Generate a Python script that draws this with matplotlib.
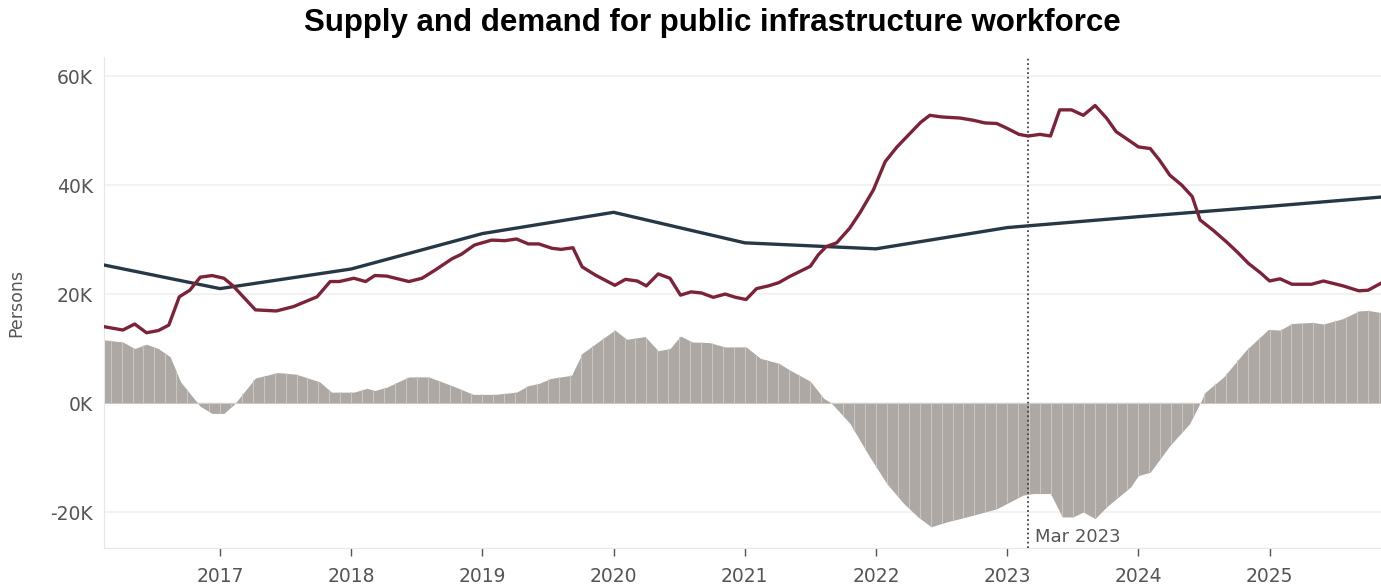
import matplotlib
matplotlib.use("Agg")
import matplotlib.pyplot as plt
from matplotlib.ticker import FuncFormatter
import numpy as np

# supply of workers (annual estimates, persons)
supply_years = [2016, 2017, 2018, 2019, 2020, 2021, 2022, 2023, 2024, 2025, 2026]
supply = [25900, 21000, 24600, 31100, 35000, 29400, 28300, 32200, 34200, 36100, 38100]

# demand for workers (monthly, persons)
demand_dates = [2016.12, 2016.26, 2016.35, 2016.44, 2016.53, 2016.61, 2016.69, 2016.77, 2016.85,
                2016.94, 2017.03, 2017.10, 2017.27, 2017.43, 2017.56, 2017.74, 2017.84, 2017.91,
                2018.02, 2018.11, 2018.18, 2018.27, 2018.44, 2018.54, 2018.64, 2018.77, 2018.84,
                2018.94, 2019.07, 2019.17, 2019.26, 2019.35, 2019.43, 2019.53, 2019.60, 2019.69,
                2019.76, 2019.86, 2020.01, 2020.09, 2020.18, 2020.25, 2020.34, 2020.43, 2020.51,
                2020.59, 2020.67, 2020.76, 2020.85, 2020.93, 2021.01, 2021.09, 2021.18, 2021.26,
                2021.34, 2021.50, 2021.56, 2021.62, 2021.70, 2021.80, 2021.88, 2021.98, 2022.07,
                2022.16, 2022.26, 2022.34, 2022.41, 2022.50, 2022.64, 2022.74, 2022.83, 2022.92,
                2023.00, 2023.09, 2023.16, 2023.25, 2023.33, 2023.40, 2023.49, 2023.58, 2023.67,
                2023.76, 2023.83, 2023.94, 2024.00, 2024.09, 2024.16, 2024.24, 2024.33, 2024.41,
                2024.47, 2024.57, 2024.67, 2024.75, 2024.84, 2024.93, 2025.00, 2025.08, 2025.17,
                2025.32, 2025.41, 2025.56, 2025.68, 2025.75, 2025.85]
demand = [14000, 13400, 14500, 12900, 13300, 14300, 19500, 20700, 23100,
          23400, 22900, 21500, 17100, 16900, 17700, 19500, 22300, 22300,
          22900, 22300, 23400, 23300, 22300, 22900, 24400, 26500, 27300,
          29000, 29900, 29800, 30100, 29200, 29200, 28400, 28200, 28500,
          25000, 23500, 21600, 22700, 22400, 21500, 23700, 22900, 19800,
          20400, 20200, 19400, 20000, 19400, 19000, 21000, 21500, 22100,
          23200, 25100, 27200, 28700, 29400, 32100, 35000, 39100, 44300,
          47000, 49500, 51500, 52800, 52500, 52300, 51900, 51400, 51300,
          50400, 49300, 49000, 49300, 49000, 53800, 53800, 52800, 54600,
          52200, 49800, 48000, 47000, 46700, 44600, 41800, 40000, 37900,
          33600, 31700, 29600, 27800, 25600, 23900, 22400, 22800, 21800,
          21800, 22400, 21500, 20600, 20700, 22000]

# supply minus demand (monthly, persons)
gap_dates = [2016.12, 2016.26, 2016.35, 2016.44, 2016.53, 2016.62, 2016.70, 2016.77, 2016.85,
             2016.94, 2017.03, 2017.11, 2017.27, 2017.44, 2017.58, 2017.76, 2017.85, 2018.02,
             2018.12, 2018.18, 2018.27, 2018.44, 2018.59, 2018.69, 2018.79, 2018.93, 2019.10,
             2019.26, 2019.35, 2019.43, 2019.52, 2019.68, 2019.76, 2019.91, 2020.01, 2020.10,
             2020.24, 2020.34, 2020.43, 2020.51, 2020.60, 2020.73, 2020.85, 2021.01, 2021.12,
             2021.26, 2021.34, 2021.50, 2021.60, 2021.66, 2021.80, 2021.95, 2022.08, 2022.21,
             2022.32, 2022.42, 2022.54, 2022.69, 2022.92, 2023.00, 2023.12, 2023.20, 2023.33,
             2023.42, 2023.50, 2023.58, 2023.67, 2023.76, 2023.94, 2024.00, 2024.09, 2024.24,
             2024.39, 2024.47, 2024.51, 2024.65, 2024.82, 2024.99, 2025.08, 2025.17, 2025.33,
             2025.41, 2025.56, 2025.68, 2025.75, 2025.85]
gap = [11600, 11200, 10000, 10800, 10000, 8500, 3900, 1800, -600,
       -1900, -1900, -200, 4600, 5600, 5300, 3900, 2000, 2000,
       2700, 2300, 2900, 4800, 4800, 3900, 3000, 1600, 1600,
       2000, 3200, 3600, 4500, 5100, 9100, 11700, 13400, 11700,
       12200, 9600, 10000, 12300, 11200, 11100, 10300, 10300, 8200,
       7300, 6100, 4000, 900, 0, -3700, -9800, -14700, -18400,
       -20900, -22700, -21800, -20900, -19400, -18400, -16900, -16600, -16600,
       -20900, -20900, -20000, -21200, -19000, -15400, -13300, -12700, -7800,
       -3800, 0, 2000, 4800, 9700, 13500, 13400, 14600, 14800,
       14500, 15500, 16900, 17000, 16600]

year_ticks = [2017, 2018, 2019, 2020, 2021, 2022, 2023, 2024, 2025]
marker_date = 2023.16
marker_label = "Mar 2023"

plt.rcParams["font.family"] = ["DejaVu Sans"]

fig = plt.figure(figsize=(13.81, 5.87), dpi=100)
ax = fig.add_axes([0.0753, 0.0664, 0.9247, 0.8365])

ax.set_xlim(2016.116, 2025.849)
ax.set_ylim(-26600, 63500)

# gap area with light monthly dividers clipped to its shape
area = ax.fill_between(gap_dates, 0, gap, color="#ada8a4", linewidth=0, zorder=2)
months = np.arange(2016.0, 2026.0, 1 / 12)
dividers = ax.vlines(months, -30000, 30000, color="#c9c5c1", linewidth=0.8, zorder=3)
dividers.set_clip_path(area.get_paths()[0], area.get_transform())

ax.plot(supply_years, supply, color="#263746", linewidth=2.4, zorder=4, solid_capstyle="round")
ax.plot(demand_dates, demand, color="#7d2338", linewidth=2.4, zorder=5, solid_joinstyle="round")

ax.axvline(marker_date, color="#444444", linestyle=(0, (1, 1.5)), linewidth=1.3, zorder=6)
ax.text(marker_date + 0.05, -24500, marker_label, fontsize=13, color="#555555",
        ha="left", va="center", zorder=7)

ax.set_yticks([-20000, 0, 20000, 40000, 60000])
ax.yaxis.set_major_formatter(FuncFormatter(lambda v, p: f"{int(v / 1000)}K"))
ax.set_xticks(year_ticks)
ax.set_xticklabels([str(y) for y in year_ticks])

ax.grid(axis="y", color="#f0f0f0", linewidth=1.2, zorder=0)
ax.set_axisbelow(True)

ax.tick_params(axis="y", length=0, pad=8, labelsize=13.5, labelcolor="#555555")
ax.tick_params(axis="x", length=6, width=1, color="#555555", pad=8,
               labelsize=13.5, labelcolor="#555555")

for side in ["top", "right"]:
    ax.spines[side].set_visible(False)
ax.spines["left"].set_color("#e6e6e6")
ax.spines["bottom"].set_color("#e6e6e6")

ax.set_ylabel("Persons", fontsize=12.5, color="#555555", labelpad=18)

fig.text(0.516, 0.96, "Supply and demand for public infrastructure workforce",
         ha="center", va="center", fontsize=22.5, fontweight="bold",
         family="Liberation Sans", color="#000000")

fig.savefig("out.png", dpi=100)
